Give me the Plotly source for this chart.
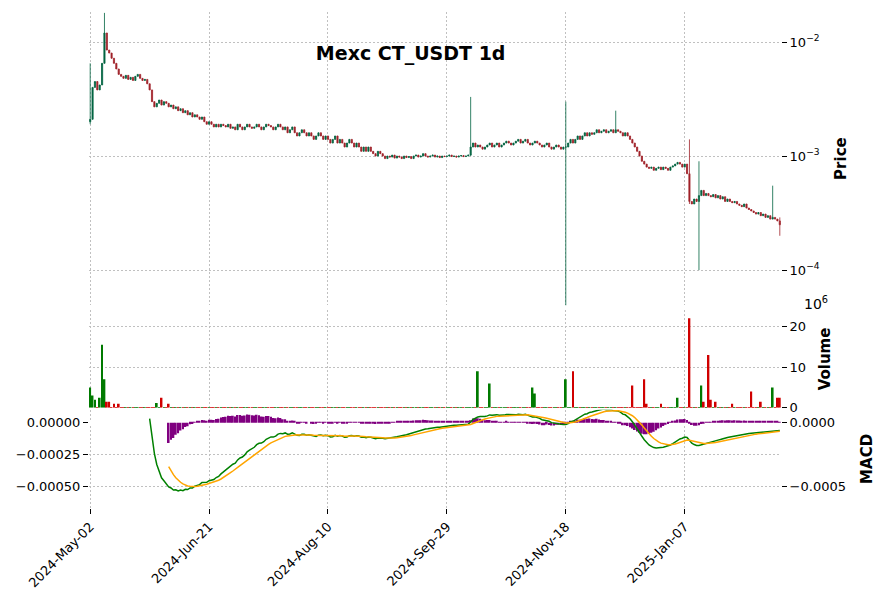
import pandas as pd, numpy as np
import plotly.graph_objects as go

start = "2024-05-02"
closes = [0.0021,0.0040,0.0045,0.0038,0.0042,0.0065,0.0120,0.0085,0.0080,0.0072,
0.0065,0.0058,0.0052,0.0050,0.0048,0.0051,0.0047,0.0049,0.0046,0.0050,
0.0052,0.0048,0.0046,0.0047,0.0043,0.0038,0.0030,0.0027,0.0029,0.0031,
0.0028,0.0030,0.0029,0.0027,0.0028,0.0026,0.0027,0.0025,0.0026,0.0024,
0.0025,0.0023,0.0024,0.0022,0.0023,0.0022,0.0021,0.0022,0.0020,0.0019,
0.0020,0.0019,0.0018,0.0019,0.0018,0.0019,0.00185,0.0018,0.0019,0.00175,
0.0018,0.0017,0.0019,0.0018,0.0017,0.0018,0.0019,0.0018,0.00175,0.0018,
0.0019,0.0018,0.0017,0.0018,0.0019,0.00185,0.0018,0.0017,0.0018,0.0019,
0.0018,0.0017,0.0018,0.0016,0.0017,0.0018,0.0016,0.0015,0.0016,0.0017,
0.0016,0.0015,0.0016,0.0015,0.0014,0.0015,0.0016,0.0015,0.0014,0.0015,
0.0014,0.0013,0.0014,0.0015,0.0013,0.0014,0.0013,0.0012,0.0013,0.0014,
0.0013,0.0012,0.0013,0.0012,0.0011,0.0012,0.0011,0.0012,0.0011,0.00105,
0.0010,0.0011,0.00105,0.0010,0.00095,0.0010,0.00098,0.00102,0.00096,0.0010,
0.00098,0.00095,0.0010,0.00097,0.00099,0.00095,0.0010,0.00102,0.00098,0.0010,
0.00105,0.0010,0.00098,0.0010,0.00102,0.00098,0.0010,0.00097,0.001,0.00099,
0.0010,0.00102,0.00099,0.0010,0.00098,0.0010,0.00101,0.00099,0.001,0.00102,
0.0012,0.0013,0.0012,0.00125,0.0012,0.00115,0.0012,0.00125,0.0013,0.0012,
0.00125,0.0013,0.0012,0.00125,0.0013,0.00135,0.0013,0.00125,0.0013,0.00135,
0.0014,0.0013,0.00135,0.0014,0.0013,0.00125,0.0013,0.00135,0.0013,0.00125,
0.0012,0.00125,0.0013,0.0012,0.00115,0.0012,0.00125,0.0012,0.00115,0.0012,
0.0012,0.0013,0.0014,0.0013,0.0014,0.0015,0.0014,0.0015,0.0016,0.0015,
0.0016,0.00155,0.0016,0.0017,0.0016,0.00165,0.0017,0.0016,0.00165,0.0017,
0.0016,0.0017,0.00165,0.0016,0.0015,0.0016,0.0015,0.0014,0.0013,0.0012,
0.0011,0.0010,0.0009,0.00085,0.0008,0.00078,0.0008,0.00075,0.00078,0.0008,
0.00076,0.0008,0.00078,0.00075,0.0008,0.00082,0.00085,0.00088,0.00085,0.0008,
0.00085,0.0007,0.0004,0.00038,0.00042,0.0004,0.00045,0.0005,0.00045,0.00047,
0.00045,0.00044,0.00046,0.00043,0.00045,0.00042,0.00044,0.0004,0.00042,0.0004,
0.00039,0.0004,0.00038,0.00037,0.00036,0.00038,0.00035,0.00034,0.00033,0.00032,
0.00031,0.00032,0.0003,0.00031,0.00029,0.0003,0.00028,0.00029,0.00028,0.00027,
0.00025]
# notable wicks: day -> (high, low)
wicks = {0:(0.0065,0.0019),6:(0.018,0.007),160:(0.0033,0.001),200:(0.003,0.000025),
         221:(0.0025,0.0016),252:(0.0014,0.00038),256:(0.0009,0.0001),287:(0.00055,0.00028),
         290:(0.00029,0.0002)}
# volumes in millions (others small)
vol_spikes = {0:5,1:3,2:2,4:2.5,5:15.5,6:7,7:1.5,8:1.5,10:1,12:1,28:1.2,30:2.5,33:1,
              163:9,168:6,186:5,187:3.5,200:7,203:9,228:5.5,233:7,234:1,240:1,
              247:2.5,252:22,257:5.5,258:1.5,260:13,261:2,263:1.5,270:1,278:4,
              282:1.5,287:5,289:2.5,290:2.5}
vol_base = 0.15

n = len(closes)
dates = pd.date_range(start, periods=n, freq="D")
c = np.array(closes)
o = np.concatenate([[closes[0]*0.95], c[:-1]])
h = np.maximum(o, c); l = np.minimum(o, c)
for d,(hh,ll) in wicks.items():
    h[d] = max(h[d], hh); l[d] = min(l[d], ll)
v = np.array([vol_spikes.get(i, vol_base) for i in range(n)])
up = c >= o

s = pd.Series(c)
macd = s.ewm(span=12, adjust=False).mean() - s.ewm(span=26, adjust=False).mean()
macd[:25] = np.nan
sig = macd.ewm(span=9, adjust=False).mean()
sig[:33] = np.nan
hist = macd - sig

fig = go.Figure()
fig.add_trace(go.Candlestick(x=dates, open=o, high=h, low=l, close=c, yaxis="y",
    increasing=dict(line=dict(color="#006340", width=0.8), fillcolor="#006340"),
    decreasing=dict(line=dict(color="#A02128", width=0.8), fillcolor="#A02128"),
    whiskerwidth=0, showlegend=False))
fig.add_trace(go.Bar(x=dates, y=v, yaxis="y2",
    marker=dict(color=np.where(up, "#007a00", "#d00000"), line=dict(width=0)), showlegend=False))
fig.add_trace(go.Bar(x=dates, y=hist, yaxis="y3",
    marker=dict(color="purple", line=dict(width=0)), showlegend=False))
fig.add_trace(go.Scatter(x=dates, y=macd, yaxis="y3", mode="lines",
    line=dict(color="green", width=1.5), showlegend=False))
fig.add_trace(go.Scatter(x=dates, y=sig, yaxis="y3", mode="lines",
    line=dict(color="orange", width=1.5), showlegend=False))
fig.add_trace(go.Scatter(x=dates, y=macd, yaxis="y4", mode="lines",
    line=dict(width=0), hoverinfo="skip", showlegend=False, opacity=0))

tickdates = pd.date_range(start, periods=6, freq="50D")
grid = dict(showgrid=True, gridcolor="#c0c0c0", griddash="2px,2px", gridwidth=0.7, automargin=False)
fnt = dict(family="DejaVu Sans", size=13, color="black")
fig.update_layout(
    width=885, height=600, plot_bgcolor="white", paper_bgcolor="white",
    margin=dict(l=81, r=112, t=4, b=100), bargap=0.25, font=fnt,
    xaxis=dict(range=[dates[0]-pd.Timedelta(hours=12), dates[-1]+pd.Timedelta(hours=12)],
               tickvals=tickdates, ticktext=[d.strftime("%Y-%b-%d") for d in tickdates],
               tickangle=-45, rangeslider=dict(visible=False), anchor="y3",
               ticks="outside", tickcolor="black", **grid),
    yaxis=dict(domain=[0.409, 1], type="log", range=[-4.307, -1.737], side="right",
               tickvals=[1e-4,1e-3,1e-2], ticktext=["10<sup>−4</sup>","10<sup>−3</sup>","10<sup>−2</sup>"],
               ticks="outside", tickcolor="black", title=dict(text="<b>Price</b>", font=dict(size=15), standoff=16), **grid),
    yaxis2=dict(domain=[0.202, 0.399], range=[0, 24], side="right", tickvals=[0,10,20],
                ticks="outside", tickcolor="black", title=dict(text="<b>Volume</b>", font=dict(size=15), standoff=14), **grid),
    yaxis3=dict(domain=[0, 0.198], range=[-0.000664, 0.0001], side="left",
                tickvals=[0,-0.00025,-0.0005], ticktext=["0.00000","−0.00025","−0.00050"],
                ticks="outside", tickcolor="black", **grid),
    yaxis4=dict(overlaying="y3", range=[-0.000664, 0.0001], side="right", showgrid=False, automargin=False,
                tickvals=[0,-0.0005], ticktext=["0.0000","−0.0005"], ticks="outside", tickcolor="black",
                title=dict(text="<b>MACD</b>", font=dict(size=15), standoff=16)),
    title=dict(text="<b>Mexc CT_USDT 1d</b>", x=0.455, y=0.935, xanchor="center", font=dict(size=19)),
    annotations=[dict(text="10<sup>6</sup>", xref="paper", yref="paper", x=1.05, y=0.392,
                      xanchor="center", yanchor="bottom", showarrow=False, font=dict(size=14))],
)
fig.write_html("out.html")
